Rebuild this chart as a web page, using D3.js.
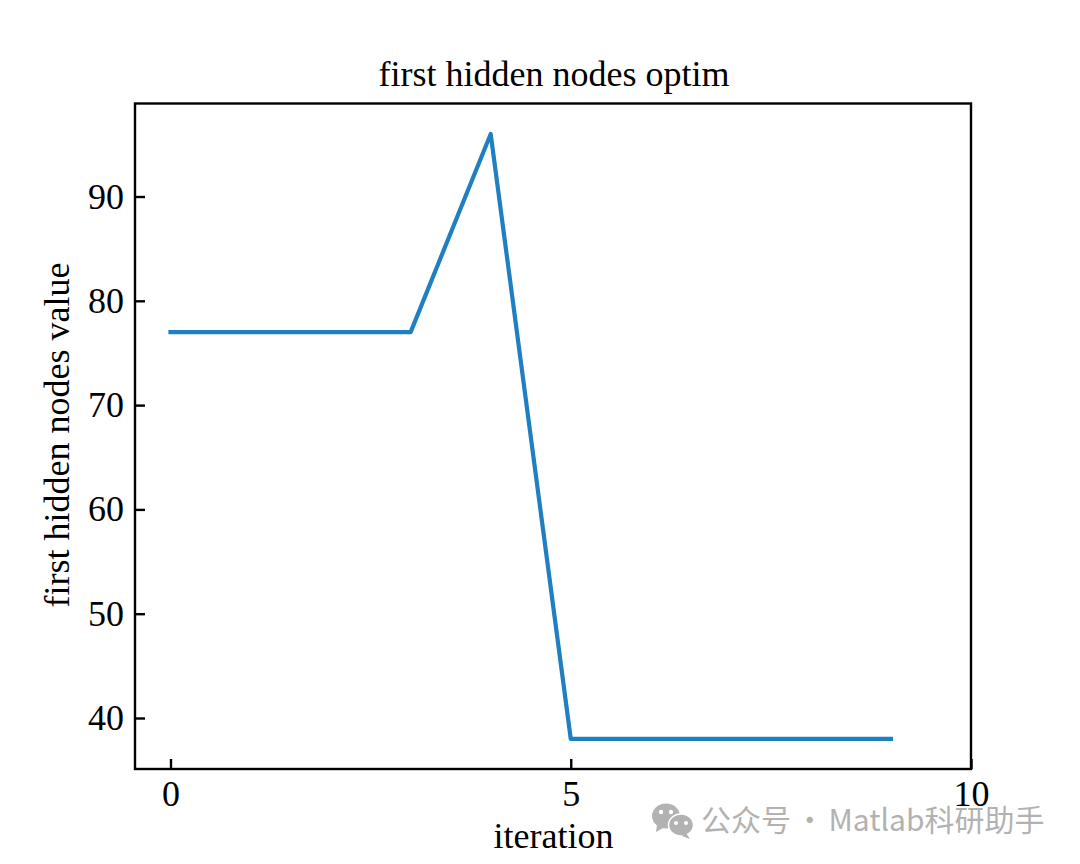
<!DOCTYPE html>
<html><head><meta charset="utf-8">
<script src="https://cdn.jsdelivr.net/npm/d3@7"></script>
<style>html,body{margin:0;padding:0;background:#fff}svg{display:block}</style></head>
<body><svg id="c" width="1080" height="864"></svg>
<script>
const iterations=[0,1,2,3,4,5,6,7,8,9];
const nodeValues=[77,77,77,77,96,38,38,38,38,38];
const xTicks=[0,5,10];
const yTicks=[40,50,60,70,80,90];
const titleText="first hidden nodes optim";
const xLabelText="iteration";
const yLabelText="first hidden nodes value";
const watermarkText="公众号 · Matlab科研助手";

const svg=d3.select("#c");
const F="'Liberation Serif','Times New Roman',serif";
const L=135,R=971,T=103.5,B=769;
const x=d3.scaleLinear().domain([0,10]).range([170.5,971]);
const y=d3.scaleLinear().domain([40,90]).range([718,196.5]);

const gx=svg.append("g").attr("transform",`translate(0,${B})`)
 .call(d3.axisBottom(x).tickValues(xTicks).tickFormat(d3.format("d")).tickSizeInner(-10).tickPadding(11));
const gy=svg.append("g").attr("transform",`translate(${L},0)`)
 .call(d3.axisLeft(y).tickValues(yTicks).tickFormat(d3.format("d")).tickSizeInner(-10).tickPadding(11));
[gx,gy].forEach(g=>{g.select(".domain").remove();
 g.selectAll("line").attr("stroke","#000").attr("stroke-width",2.4);
 g.selectAll("text").attr("fill","#000").style("font-family",F).style("font-size","36px");});

svg.append("path").datum(iterations.map((d,i)=>[d,nodeValues[i]]))
 .attr("fill","none").attr("stroke","#1f7fc1").attr("stroke-width",4.2)
 .attr("stroke-linejoin","round").attr("stroke-linecap","square")
 .attr("d",d3.line().x(d=>x(d[0])).y(d=>y(d[1])));

svg.append("rect").attr("x",L).attr("y",T).attr("width",R-L).attr("height",B-T)
 .attr("fill","none").attr("stroke","#000").attr("stroke-width",2.4);

const txt=(t,px,py)=>svg.append("text").text(t).attr("x",px).attr("y",py).attr("text-anchor","middle")
 .style("font-family",F).style("font-size","36px").attr("fill","#000");
txt(titleText,554,86);
txt(xLabelText,553.5,848);
txt(yLabelText,0,0).attr("transform","translate(69,435) rotate(-90)");

// watermark
const wm=svg.append("g").attr("fill","#b2b2b2");
wm.append("ellipse").attr("cx",666).attr("cy",816).attr("rx",14).attr("ry",12.5);
wm.append("path").attr("d","M657 825l-1 7 7-4z");
wm.append("ellipse").attr("cx",681).attr("cy",825).attr("rx",12.5).attr("ry",11).attr("stroke","#fff").attr("stroke-width",1.5);
wm.append("path").attr("d","M686 833l4 6-8-3z");
[[661,812],[671,812]].forEach(p=>svg.append("circle").attr("cx",p[0]).attr("cy",p[1]).attr("r",2.2).attr("fill","#fff"));
[[676,823],[686,823]].forEach(p=>svg.append("circle").attr("cx",p[0]).attr("cy",p[1]).attr("r",2).attr("fill","#fff"));
svg.append("text").text(watermarkText).attr("x",701).attr("y",831).attr("word-spacing",-3)
 .style("font-family","'Noto Sans CJK SC','Noto Sans',sans-serif").style("font-size","30px").attr("fill","#b2b2b2");
</script></body></html>
